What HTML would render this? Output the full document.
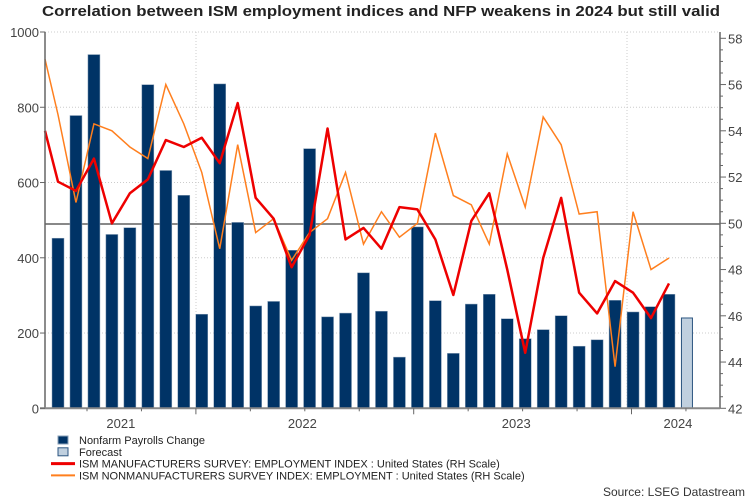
<!DOCTYPE html>
<html><head><meta charset="utf-8"><style>
body{margin:0;background:#fff;}
svg{display:block;font-family:"Liberation Sans",sans-serif;}
</style></head><body>
<svg id="c" width="750" height="500">
<text x="42" y="16" font-size="14.5" font-weight="bold" fill="#222" textLength="678" lengthAdjust="spacingAndGlyphs">Correlation between ISM employment indices and NFP weakens in 2024 but still valid</text>
<g id="grid"></g><g id="bars"></g><g id="lines"></g><g id="axes"></g><g id="legend"></g>
<text x="745" y="496" text-anchor="end" font-size="12" fill="#333">Source: LSEG Datastream</text>
</svg>
<script>
const nfp=[452,778,940,462,480,860,632,566,250,862,494,272,284,420,690,243,253,360,258,136,482,286,146,277,303,238,185,209,246,165,182,287,256,270,303];
const forecast=[240];
const ismMfg=[54.0,51.8,51.4,52.8,50.0,51.3,51.9,53.6,53.3,53.7,52.6,55.2,51.1,50.2,48.1,49.5,54.1,49.3,49.8,48.9,50.7,50.6,49.3,46.9,50.1,51.3,48.0,44.4,48.5,51.1,47.0,46.1,47.5,47.0,45.9,47.4];
const ismNonMfg=[57.1,54.7,50.9,54.3,54.0,53.3,52.8,56.0,54.3,52.2,48.9,53.4,49.6,50.2,48.4,49.6,50.2,52.2,49.1,50.5,49.4,50.0,53.9,51.2,50.8,49.1,53.0,50.7,54.6,53.4,50.4,50.5,43.8,50.5,48.0,48.5];
const leftTicks=[0,200,400,600,800,1000];
const rightTicks=[42,44,46,48,50,52,54,56,58];
const yearLabels=["2021","2022","2023","2024"];
const yearPos=[4,14.1,26,35];
const NS="http://www.w3.org/2000/svg";
const X0=45,X1=720,YT=32,YB=408.3,RT=38.3;
const yL=v=>YB-(v/1000)*(YB-YT);
const yR=v=>YB-(v-42)/16*(YB-RT);
const xI=i=>58+i*17.97;
function mk(p,t,a){const e=document.createElementNS(NS,t);for(const k in a)e.setAttribute(k,a[k]);p.appendChild(e);return e;}
const G=document.getElementById('grid'),B=document.getElementById('bars'),L=document.getElementById('lines'),A=document.getElementById('axes'),LG=document.getElementById('legend');
leftTicks.forEach(v=>{if(v>0){const g=mk(G,'line',{x1:X0,x2:X1,y1:yL(v),y2:yL(v),stroke:'#ccc','stroke-dasharray':'1,2'});

}
const t=mk(A,'text',{x:X0-6,y:yL(v)+5,'text-anchor':'end','font-size':13,fill:'#444'});t.textContent=v;

});
[196,627].forEach(x=>{const g=mk(G,'line',{x1:x,x2:x,y1:YT,y2:YB,stroke:'#ccc','stroke-dasharray':'1,2'});

});
nfp.forEach((v,i)=>{const r=mk(B,'rect',{x:xI(i)-6,y:yL(v),width:12,height:YB-yL(v),fill:'#003366',stroke:'#8aa0b8','stroke-width':0.5});

});
forecast.forEach((v,j)=>{const i=nfp.length+j;const r=mk(B,'rect',{x:xI(i)-5.5,y:yL(v),width:11,height:YB-yL(v),fill:'#c0d0df',stroke:'#2c5580','stroke-width':1});

});
const rl=mk(G,'line',{x1:X0,x2:X1,y1:yR(50)+0.7,y2:yR(50)+0.7,stroke:'#888','stroke-width':2});


function path(arr){return arr.map((v,i)=>(i?'L':'M')+(i?xI(i-1):X0)+','+yR(v)).join(' ');}
const po=mk(L,'path',{d:path(ismNonMfg),fill:'none',stroke:'#ff7f1e','stroke-width':1.5});


const pr=mk(L,'path',{d:path(ismMfg),fill:'none',stroke:'#ee0000','stroke-width':2.5,'stroke-linejoin':'round'});


mk(A,'line',{x1:X0,x2:X0,y1:YT,y2:YB,stroke:'#666','stroke-width':1.5});
mk(A,'line',{x1:X1,x2:X1,y1:YT,y2:YB,stroke:'#666','stroke-width':1.5});
mk(A,'line',{x1:X0-5,x2:X1,y1:YB,y2:YB,stroke:'#888','stroke-width':2});
leftTicks.forEach(v=>mk(A,'line',{x1:X0-5,x2:X0,y1:yL(v),y2:yL(v),stroke:'#666'}));
for(let v=42;v<=58.01;v+=0.5){mk(A,'line',{x1:X1,x2:X1+(v%2==0?6:3),y1:yR(v),y2:yR(v),stroke:'#666'});}
rightTicks.forEach(v=>{const t=mk(A,'text',{x:X1+8,y:yR(v)+5,'font-size':13,fill:'#444'});t.textContent=v;

});
for(let k=0;k<12;k++){const x=87+k*54.45;mk(A,'line',{x1:x,x2:x,y1:YB,y2:YB+(k%4==2?6:3),stroke:'#666'});}
yearLabels.forEach((s,i)=>{const t=mk(A,'text',{x:xI(yearPos[i])-9,y:428,'text-anchor':'middle','font-size':13,fill:'#444'});t.textContent=s;

});
const leg=[["rect","#003366","#8aa0b8","Nonfarm Payrolls Change"],["rect","#c0d0df","#2c5580","Forecast"],["line","#ee0000",3,"ISM MANUFACTURERS SURVEY: EMPLOYMENT INDEX : United States (RH Scale)"],["line","#ff7f1e",2,"ISM NONMANUFACTURERS SURVEY INDEX: EMPLOYMENT : United States (RH Scale)"]];
leg.forEach((l,i)=>{const y=440+i*11.8;const g=mk(LG,'g',{});


if(l[0]=='rect')mk(g,'rect',{x:58,y:y-4,width:10,height:8,fill:l[1],stroke:l[2]});else mk(g,'line',{x1:51,x2:75,y1:y,y2:y,stroke:l[1],'stroke-width':l[2]});
const t=mk(g,'text',{x:79,y:y+4,'font-size':11,fill:'#222'});t.textContent=l[3];});
</script>
</body></html>
